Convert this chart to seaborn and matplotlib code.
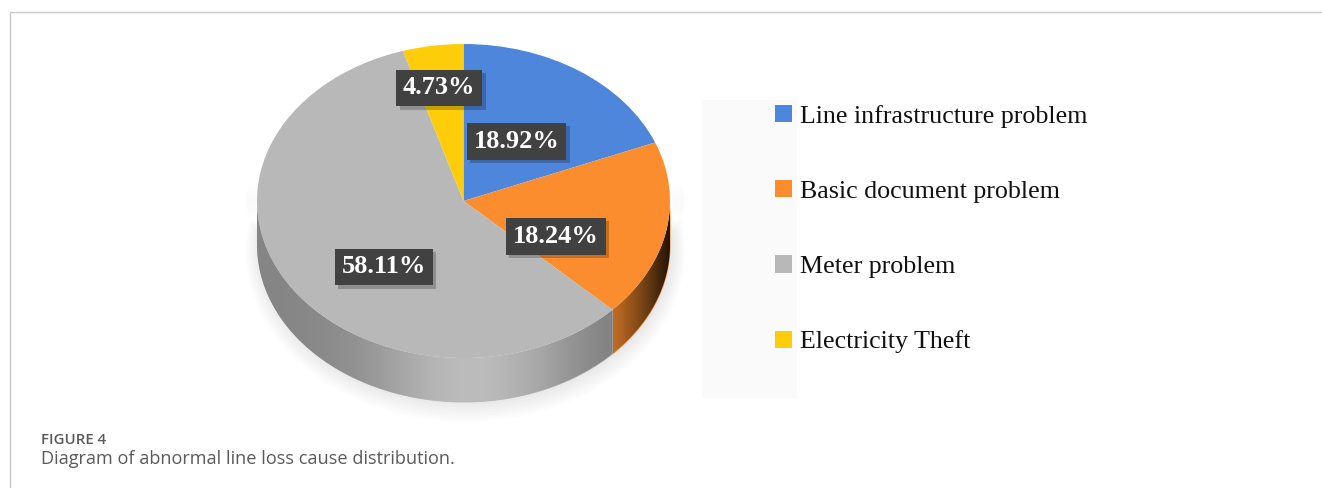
import numpy as np
import matplotlib
matplotlib.use("Agg")
import matplotlib.pyplot as plt
import matplotlib.patheffects as pe
from matplotlib.patches import Rectangle, Polygon
from matplotlib.lines import Line2D
from matplotlib.colors import to_rgb
import seaborn as sns

# ---- data -------------------------------------------------------------
categories = [
    "Line infrastructure problem",
    "Basic document problem",
    "Meter problem",
    "Electricity Theft",
]
shares = [18.92, 18.24, 58.11, 4.73]
colors = ["#4e86dc", "#fc8d2e", "#b8b8b8", "#fdcd0a"]

# label placement inside each wedge: fraction of radius, angular nudge (deg)
label_radius = [0.46, 0.50, 0.57, 0.73]
label_nudge = [0.0, -15.8, 15.8, 0.7]

# ---- style ------------------------------------------------------------
sns.set_theme(style="white")
plt.rcParams["font.family"] = ["Liberation Serif", "DejaVu Serif"]
palette = sns.color_palette(colors)

W, H = 1322, 488
fig = plt.figure(figsize=(W / 100, H / 100), dpi=100)
fig.patch.set_facecolor("white")

# pie geometry in pixels: centre of the top face and its radii
cx, cy = 463.5, 201.0
rx, ry = 206.5, 157.0
depth = 0.28          # height of the cylinder wall, in units of the y radius

xlim = (-1.3, 1.3)
ylim = (-1.55, 1.15)
ax_w = (xlim[1] - xlim[0]) * rx
ax_h = (ylim[1] - ylim[0]) * ry
left = cx + xlim[0] * rx
top = cy - ylim[1] * ry
ax = fig.add_axes([left / W, 1 - (top + ax_h) / H, ax_w / W, ax_h / H])

# ---- top face ---------------------------------------------------------
wedges, _ = ax.pie(
    shares, colors=palette, startangle=90, counterclock=False, radius=1,
    wedgeprops=dict(linewidth=0, zorder=4),
)
ax.set_aspect("auto")
ax.set_xlim(xlim)
ax.set_ylim(ylim)
ax.axis("off")

# ---- soft shadow under the cylinder wall -------------------------------
t = np.linspace(np.deg2rad(-190), np.deg2rad(10), 300)
for k in range(1, 8):
    gx = 1 + 0.009 * k
    xs = gx * np.cos(t) + 0.01
    ylow = np.sin(t) * (1 + 0.012 * k) - depth - 0.006 * k
    yhigh = np.sin(t) * 0.6
    pts = np.vstack([np.column_stack([xs, ylow]),
                     np.column_stack([xs[::-1], yhigh[::-1]])])
    ax.add_patch(Polygon(pts, closed=True, fc="#000000", ec="none",
                         alpha=0.010, zorder=1))


# ---- cylinder wall (front half only) ---------------------------------
def wall_shade(theta_deg, base, kind):
    """Brightness factor along the wall for a given angle."""
    if kind == "dark":
        span = max(theta_deg.max() - theta_deg.min(), 1e-6)
        u = (theta_deg - theta_deg.min()) / span
        f = 0.76 - 0.64 * u ** 1.2
    else:
        f = 0.72 + 0.30 * np.exp(-((theta_deg + 98.0) / 38.0) ** 2)
        f = f - 0.06 * np.clip((theta_deg + 70.0) / 30.0, 0, 1)
    return np.clip(np.outer(f, np.array(base)), 0, 1)


for i, w in enumerate(wedges):
    t1, t2 = w.theta1, w.theta2
    # bring the wedge into the (-180, 0) front window if possible
    for shift in (-360.0, 0.0, 360.0):
        a = max(t1 + shift, -180.0)
        b = min(t2 + shift, 0.0)
        if b - a > 0.05:
            th = np.linspace(a, b, 300)
            rad = np.deg2rad(th)
            xs = np.cos(rad)
            ytop = np.sin(rad)
            ybot = ytop - depth
            poly = ax.fill_between(xs, ytop, ybot, color=palette[i],
                                   linewidth=0, zorder=2)
            kind = "dark" if i == 1 else "gray"
            img = wall_shade(th, to_rgb(palette[i]), kind)[np.newaxis, :, :]
            im = ax.imshow(img, extent=(xs.min(), xs.max(), ybot.min(), ytop.max()),
                           aspect="auto", interpolation="bilinear", zorder=3,
                           origin="lower")
            im.set_clip_path(poly.get_paths()[0], ax.transData)

# ---- value labels ----------------------------------------------------
for w, share, r, nudge in zip(wedges, shares, label_radius, label_nudge):
    mid = np.deg2rad(0.5 * (w.theta1 + w.theta2) + nudge)
    x, y = r * np.cos(mid), r * np.sin(mid)
    label = ax.text(x, y, f"{share:.2f}%", ha="center", va="center",
                    fontsize=19, fontweight="bold", color="white", zorder=6,
                    bbox=dict(boxstyle="square,pad=0.26", fc="#414141", ec="none"))
    label.get_bbox_patch().set_path_effects([
        pe.SimplePatchShadow(offset=(2.5, -2.5), shadow_rgbFace="#000000", alpha=0.22),
        pe.Normal(),
    ])

# ---- legend ----------------------------------------------------------
fig.add_artist(Rectangle((702 / W, 1 - 398 / H), 95 / W, 298 / H,
                         transform=fig.transFigure, fc="#fafafa", ec="none", zorder=0))
fig.legend(
    wedges, categories, loc="center left",
    bbox_to_anchor=(775 / W, 1 - 229 / H),
    frameon=False, fontsize=18.7, handlelength=0.65, handleheight=0.65,
    handletextpad=0.30, labelspacing=2.02, borderpad=0, borderaxespad=0,
    labelcolor="#111111",
)

# ---- frame and caption -----------------------------------------------
fig.add_artist(Line2D([9.5 / W, 1], [1 - 11.5 / H, 1 - 11.5 / H],
                      transform=fig.transFigure, color="#c8c8c8", lw=1))
fig.add_artist(Line2D([9.5 / W, 9.5 / W], [1 - 11.5 / H, 0],
                      transform=fig.transFigure, color="#c8c8c8", lw=1))

fig.text(41 / W, 1 - 440 / H, "FIGURE 4", ha="left", va="center",
         family=["Open Sans", "DejaVu Sans"], fontweight="semibold",
         fontsize=10.8, color="#5a5a5a")
fig.text(41 / W, 1 - 459 / H, "Diagram of abnormal line loss cause distribution.",
         ha="left", va="center", family=["Open Sans", "DejaVu Sans"],
         fontsize=13.1, color="#5a5a5a")

fig.savefig("out.png", dpi=100, facecolor="white")
